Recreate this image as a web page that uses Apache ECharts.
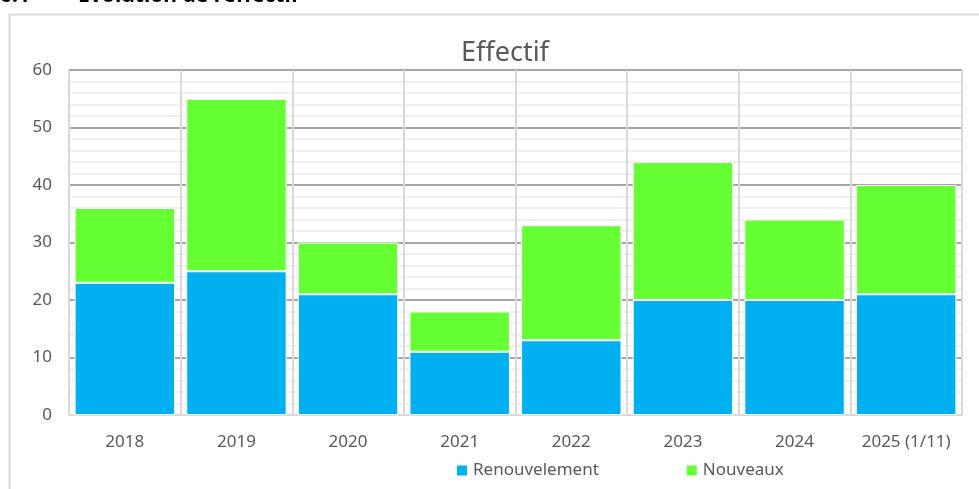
<!DOCTYPE html>
<html><head><meta charset="utf-8">
<script src="https://cdn.jsdelivr.net/npm/echarts@6/dist/echarts.min.js"></script>
<style>html,body{margin:0;padding:0;background:#fff;}#c{width:979px;height:489px;}</style>
</head><body><div id="c"></div>
<script>
const categories = ['2018','2019','2020','2021','2022','2023','2024','2025 (1/11)'];
const renouvellement = [23, 25, 21, 11, 13, 20, 20, 21];
const nouveaux = [13, 30, 9, 7, 20, 24, 14, 19];
const yTicks = [0, 10, 20, 30, 40, 50, 60];

const font = 'Noto Sans';
const chart = echarts.init(document.getElementById('c'));
chart.setOption({
  animation: false,
  backgroundColor: '#fff',
  textStyle: { fontFamily: font },
  title: {
    text: 'Effectif', left: 500, top: 35, textAlign: 'center',
    textStyle: { fontFamily: font, fontSize: 27, fontWeight: 'normal', color: '#595959' }
  },
  graphic: [
    { type: 'rect', shape: { x: 9.5, y: 14.5, width: 1000, height: 500 }, style: { fill: 'none', stroke: '#d9d9d9', lineWidth: 2 }, z: -1 },
    { type: 'text', x: 0, y: -14, style: { text: '6.1', font: 'bold 21px Noto Sans', fill: '#000' } },
    { type: 'text', x: 78, y: -14, style: { text: 'Évolution de l\u2019effectif', font: 'bold 21px Noto Sans', fill: '#000' } }
  ],
  legend: {
    left: 455, top: 462, padding: 0, itemWidth: 12, itemHeight: 12, itemGap: 86, icon: 'rect',
    textStyle: { fontFamily: font, fontSize: 17, color: '#595959' },
    data: ['Renouvelement', 'Nouveaux']
  },
  grid: { left: 69, right: 17, top: 70, bottom: 74, containLabel: false },
  xAxis: {
    type: 'category', data: categories,
    axisLine: { lineStyle: { color: '#d9d9d9', width: 2 } },
    axisTick: { show: false },
    axisLabel: { interval: 0, fontFamily: font, fontSize: 17, color: '#595959', margin: 19 },
    splitLine: { show: true, interval: 0, lineStyle: { color: '#d9d9d9', width: 2 } }
  },
  yAxis: {
    type: 'value', min: 0, max: 60, interval: 10,
    axisLine: { show: false },
    axisTick: { show: false },
    axisLabel: { fontFamily: font, fontSize: 17, color: '#595959', margin: 17,
      formatter: v => yTicks.includes(v) ? String(v) : '' },
    splitLine: { show: true, lineStyle: { color: '#a6a6a6', width: 2 } },
    minorTick: { show: false, splitNumber: 5 },
    minorSplitLine: { show: true, lineStyle: { color: '#f0f0f0', width: 2 } }
  },
  series: [
    { name: 'Renouvelement', type: 'bar', stack: 't', data: renouvellement, barCategoryGap: '10%',
      itemStyle: { color: '#00b0f0', borderColor: '#fff', borderWidth: 1 } },
    { name: 'Nouveaux', type: 'bar', stack: 't', data: nouveaux, barCategoryGap: '10%',
      itemStyle: { color: '#66ff33', borderColor: '#fff', borderWidth: 1 } }
  ]
});
</script></body></html>
